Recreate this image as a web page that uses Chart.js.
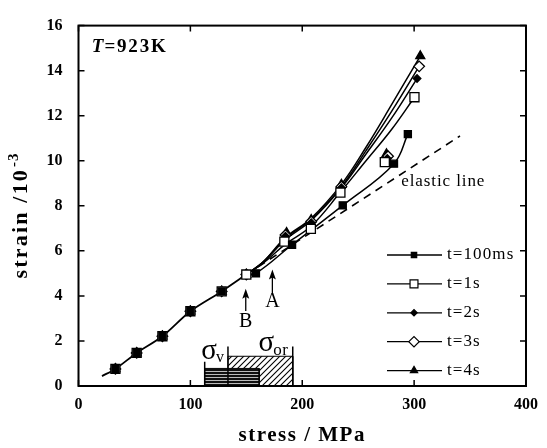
<!DOCTYPE html>
<html><head><meta charset="utf-8">
<script src="https://cdn.jsdelivr.net/npm/chart.js@4.4.1/dist/chart.umd.min.js"></script>
<style>html,body{margin:0;padding:0;background:#fff}#wrap{width:547px;height:448px}</style>
</head><body><div id="wrap"><canvas id="c" width="547" height="448"></canvas></div>
<script>
// ---------- data: measured points ----------
const seriesNames = ['t=100ms', 't=1s', 't=2s', 't=3s', 't=4s'];
const stress100ms = [33, 52, 75, 100, 128, 158.6, 190.9, 236.2, 282, 294.4];
const strain100ms = [0.76, 1.47, 2.21, 3.32, 4.2, 5.0, 6.27, 8.02, 9.87, 11.18];
const stress1s = [33, 52, 75, 100, 128, 150, 184, 207.7, 234.1, 273.8, 300.3];
const strain1s = [0.76, 1.47, 2.21, 3.32, 4.2, 4.95, 6.41, 6.98, 8.59, 9.94, 12.82];
const stress2s = [33, 52, 75, 100, 128, 150, 185, 208, 235, 276, 302.6];
const strain2s = [0.76, 1.47, 2.21, 3.32, 4.2, 4.95, 6.65, 7.25, 8.8, 10.1, 13.65];
const stress3s = [33, 52, 75, 100, 128, 150, 185, 208, 235, 276.7, 304.5];
const strain3s = [0.76, 1.47, 2.21, 3.32, 4.2, 4.95, 6.7, 7.3, 8.85, 10.2, 14.19];
const stress4s = [33, 52, 75, 100, 128, 150, 186, 208, 235, 275.3, 305.5];
const strain4s = [0.76, 1.47, 2.21, 3.32, 4.2, 4.95, 6.8, 7.38, 8.95, 10.3, 14.65];
// ---------- data: drawn curves ----------
const commonCurveStress = [21, 33, 52, 75, 100, 128, 150];
const commonCurveStrain = [0.44, 0.76, 1.47, 2.21, 3.32, 4.2, 4.95];
const curve100msStress = [150, 158.6, 190.9, 236.2, 282, 294.4];
const curve100msStrain = [4.95, 5.0, 6.27, 8.02, 9.87, 11.18];
const curve1sStress = [150, 165, 185, 208, 234, 257, 280, 300.3];
const curve1sStrain = [4.95, 5.45, 6.3, 7.1, 8.6, 10.0, 11.4, 12.82];
const curve2sStress = [150, 165, 185, 208, 235, 257, 280, 302.6];
const curve2sStrain = [4.95, 5.5, 6.5, 7.35, 8.8, 10.3, 11.9, 13.65];
const curve3sStress = [150, 165, 185, 208, 235, 257, 280, 304.5];
const curve3sStrain = [4.95, 5.5, 6.55, 7.4, 8.85, 10.45, 12.2, 14.19];
const curve4sStress = [150, 165, 185, 208, 235, 257, 280, 305.5];
const curve4sStrain = [4.95, 5.5, 6.6, 7.45, 8.95, 10.6, 12.5, 14.65];
const elasticStress = [150, 341];
const elasticStrain = [4.95, 11.1];
const sigmaVRange = [112.8, 161.5];
const sigmaVHeight = 0.78;
const sigmaOrRange = [133.6, 191.5];
const sigmaOrHeight = 1.32;
const markerStress = [112.8, 133.6, 191.5];
const markerTop = [1.08, 1.75, 1.75];
const xTicks = [0, 100, 200, 300, 400];
const yTicks = [0, 2, 4, 6, 8, 10, 12, 14, 16];
const arrowA = {x: 173.3, from: 4.1, to: 5.17, labelY: 3.76, label: 'A'};
const arrowB = {x: 149.5, from: 3.33, to: 4.32, labelY: 2.86, label: 'B'};

// ---------- helpers ----------
function pts(xs, ys) { return xs.map((v, i) => ({x: v, y: ys[i]})); }
function makeHatch() {
  const c = document.createElement('canvas'); c.width = 6; c.height = 6;
  const g = c.getContext('2d');
  g.fillStyle = '#fff'; g.fillRect(0, 0, 6, 6);
  g.strokeStyle = '#000'; g.lineWidth = 1.1;
  g.beginPath(); g.moveTo(0, 6); g.lineTo(6, 0); g.moveTo(-1, 1); g.lineTo(1, -1); g.moveTo(5, 7); g.lineTo(7, 5); g.stroke();
  return g.createPattern(c, 'repeat');
}
function makeStripes() {
  const c = document.createElement('canvas'); c.width = 8; c.height = 3;
  const g = c.getContext('2d');
  g.fillStyle = '#111'; g.fillRect(0, 0, 8, 3);
  g.fillStyle = '#bbb'; g.fillRect(0, 2, 8, 1);
  return g.createPattern(c, 'repeat');
}
function barPts(range, h) { return [{x: range[0], y: 0}, {x: range[0], y: h}, {x: range[1], y: h}, {x: range[1], y: 0}]; }

const styles = [
  {pointStyle: 'rect', radius: 5, fill: '#000', lr: 3.8},
  {pointStyle: 'rect', radius: 6.4, fill: '#fff', lr: 5.6},
  {pointStyle: 'rectRot', radius: 3.8, fill: '#000', lr: 3.2},
  {pointStyle: 'rectRot', radius: 5.3, fill: '#fff', lr: 5.2},
  {pointStyle: 'triangle', radius: 5.2, fill: '#000', lr: 4.2}
];
const seriesX = [stress100ms, stress1s, stress2s, stress3s, stress4s];
const seriesY = [strain100ms, strain1s, strain2s, strain3s, strain4s];
const curveX = [curve100msStress, curve1sStress, curve2sStress, curve3sStress, curve4sStress];
const curveY = [curve100msStrain, curve1sStrain, curve2sStrain, curve3sStrain, curve4sStrain];

const datasets = [];
seriesNames.forEach((n, i) => {
  datasets.push({
    label: n, data: pts(seriesX[i], seriesY[i]), showLine: false,
    pointStyle: styles[i].pointStyle, pointRadius: styles[i].radius,
    pointBackgroundColor: styles[i].fill, pointBorderColor: '#000', pointBorderWidth: 1.3,
    pointHoverRadius: styles[i].radius
  });
});
seriesNames.forEach((n, i) => {
  datasets.push({
    label: n + ' curve', data: pts(curveX[i], curveY[i]), showLine: true,
    borderColor: '#000', borderWidth: 1.5, tension: 0.4, pointRadius: 0
  });
});
datasets.push({label: 'common', data: pts(commonCurveStress, commonCurveStrain), showLine: true, borderColor: '#000', borderWidth: 1.8, pointRadius: 0, tension: 0.3});
datasets.push({label: 'elastic', data: pts(elasticStress, elasticStrain), showLine: true, borderColor: '#000', borderWidth: 1.6, borderDash: [8, 6], pointRadius: 0});
markerStress.forEach((s, i) => {
  datasets.push({label: 'mk' + i, data: [{x: s, y: 0}, {x: s, y: markerTop[i]}], showLine: true, borderColor: '#000', borderWidth: 1.5, pointRadius: 0});
});
datasets.push({label: 'sigmaV', data: barPts(sigmaVRange, sigmaVHeight), showLine: true, borderColor: '#000', borderWidth: 1, pointRadius: 0, fill: 'origin', backgroundColor: makeStripes(), tension: 0});
datasets.push({label: 'sigmaOr', data: barPts(sigmaOrRange, sigmaOrHeight), showLine: true, borderColor: '#000', borderWidth: 1, pointRadius: 0, fill: 'origin', backgroundColor: makeHatch(), tension: 0});

const SERIF = '"Liberation Serif", "Times New Roman", serif';

function drawMarker(ctx, st, r, x, y) {
  ctx.fillStyle = st.fill; ctx.strokeStyle = '#000'; ctx.lineWidth = 1.2;
  if (Chart.helpers && Chart.helpers.drawPoint) {
    Chart.helpers.drawPoint(ctx, {pointStyle: st.pointStyle, radius: r, rotation: 0, borderWidth: 1.2}, x, y);
  } else {
    ctx.beginPath(); ctx.arc(x, y, r, 0, Math.PI * 2); ctx.fill(); ctx.stroke();
  }
}
function txt(ctx, s, x, y, font, align, spacing) {
  ctx.font = font; ctx.textAlign = align || 'left';
  try { ctx.letterSpacing = (spacing || 0) + 'px'; } catch (e) {}
  ctx.fillText(s, x, y);
  try { ctx.letterSpacing = '0px'; } catch (e) {}
}

const decor = {
  id: 'decor',
  beforeDraw(chart) {
    const ctx = chart.ctx; ctx.save(); ctx.fillStyle = '#fff'; ctx.fillRect(0, 0, chart.width, chart.height); ctx.restore();
  },
  afterDraw(chart) {
    const {ctx, chartArea: a} = chart; const xs = chart.scales.x, ys = chart.scales.y;
    ctx.save();
    ctx.strokeStyle = '#000'; ctx.fillStyle = '#000';
    ctx.lineWidth = 2;
    ctx.strokeRect(a.left, a.top, a.right - a.left, a.bottom - a.top);
    ctx.lineWidth = 1.5;
    ctx.beginPath();
    xTicks.forEach(v => { const p = xs.getPixelForValue(v); ctx.moveTo(p, a.bottom); ctx.lineTo(p, a.bottom - 6); ctx.moveTo(p, a.top); ctx.lineTo(p, a.top + 6); });
    yTicks.forEach(v => { const p = ys.getPixelForValue(v); ctx.moveTo(a.left, p); ctx.lineTo(a.left + 6, p); ctx.moveTo(a.right, p); ctx.lineTo(a.right - 6, p); });
    ctx.stroke();
    // arrows
    [arrowA, arrowB].forEach(ar => {
      const px = xs.getPixelForValue(ar.x), y1 = ys.getPixelForValue(ar.from), y2 = ys.getPixelForValue(ar.to);
      ctx.lineWidth = 1.3;
      ctx.beginPath(); ctx.moveTo(px, y1); ctx.lineTo(px, y2 + 6); ctx.stroke();
      ctx.beginPath(); ctx.moveTo(px, y2); ctx.lineTo(px - 3.5, y2 + 10); ctx.lineTo(px, y2 + 8); ctx.lineTo(px + 3.5, y2 + 10); ctx.closePath(); ctx.fill();
      ctx.textBaseline = 'middle';
      txt(ctx, ar.label, px, ys.getPixelForValue(ar.labelY), '20px ' + SERIF, 'center', 0);
    });
    ctx.textBaseline = 'alphabetic';
    // T=923K
    const tx = xs.getPixelForValue(11.9), ty = ys.getPixelForValue(14.83);
    ctx.font = 'italic bold 19px ' + SERIF;
    txt(ctx, 'T', tx, ty, 'italic bold 19px ' + SERIF, 'left', 1);
    const tw = ctx.measureText('T').width + 1;
    txt(ctx, '=923K', tx + tw, ty, 'bold 19px ' + SERIF, 'left', 1.8);
    // elastic line
    txt(ctx, 'elastic line', xs.getPixelForValue(288.5), ys.getPixelForValue(8.89), '17px ' + SERIF, 'left', 0.9);
    // sigma labels
    const sv = xs.getPixelForValue(109.8), svy = ys.getPixelForValue(1.2);
    txt(ctx, 'σ', sv, svy, '29px ' + SERIF, 'left', 0);
    ctx.font = '29px ' + SERIF; const sw = ctx.measureText('σ').width;
    txt(ctx, 'v', sv + sw - 1, svy + 3, '16px ' + SERIF, 'left', 0);
    const so = xs.getPixelForValue(161), soy = ys.getPixelForValue(1.54);
    txt(ctx, 'σ', so, soy, '29px ' + SERIF, 'left', 0);
    txt(ctx, 'or', so + sw - 1, soy + 4, '17px ' + SERIF, 'left', 0.5);
    // axis titles
    txt(ctx, 'stress / MPa', (a.left + a.right) / 2, 441, 'bold 21px ' + SERIF, 'center', 1.5);
    ctx.save();
    ctx.translate(27, 216); ctx.rotate(-Math.PI / 2);
    ctx.font = 'bold 22px ' + SERIF;
    try { ctx.letterSpacing = '2.2px'; } catch (e) {}
    const m1 = ctx.measureText('strain /10').width;
    ctx.font = 'bold 15px ' + SERIF;
    try { ctx.letterSpacing = '1px'; } catch (e) {}
    const m2 = ctx.measureText('-3').width;
    const start = -(m1 + m2) / 2;
    txt(ctx, 'strain /10', start, 0, 'bold 22px ' + SERIF, 'left', 2.2);
    txt(ctx, '-3', start + m1 + 1, -9, 'bold 15px ' + SERIF, 'left', 1);
    ctx.restore();
    // legend
    ctx.textBaseline = 'middle';
    seriesNames.forEach((n, i) => {
      const ly = a.bottom - 131 + i * 28.9;
      const x1 = a.right - 139, x2 = a.right - 84, mx = a.right - 112;
      ctx.strokeStyle = '#000'; ctx.lineWidth = 1.3;
      ctx.beginPath(); ctx.moveTo(x1, ly); ctx.lineTo(x2, ly); ctx.stroke();
      drawMarker(ctx, styles[i], styles[i].lr, mx, ly);
      ctx.fillStyle = '#000';
      txt(ctx, n, a.right - 79, ly, '17px ' + SERIF, 'left', 1.1);
    });
    ctx.restore();
  }
};

new Chart(document.getElementById('c'), {
  type: 'scatter',
  data: {datasets},
  options: {
    responsive: false, animation: false, devicePixelRatio: 1,
    layout: {padding: {left: 0, right: 15, top: 12, bottom: 0}},
    plugins: {legend: {display: false}, tooltip: {enabled: false}},
    elements: {line: {tension: 0}},
    scales: {
      x: {
        type: 'linear', min: 0, max: 400,
        afterBuildTicks: s => { s.ticks = xTicks.map(v => ({value: v})); },
        afterFit: s => { s.height = 62; },
        grid: {display: false, drawTicks: false}, border: {display: false},
        ticks: {padding: 9, color: '#000', font: {family: SERIF, size: 16, weight: 'bold'}}
      },
      y: {
        type: 'linear', min: 0, max: 16,
        afterBuildTicks: s => { s.ticks = yTicks.map(v => ({value: v})); },
        afterFit: s => { s.width = 78.5; },
        grid: {display: false, drawTicks: false}, border: {display: false},
        ticks: {padding: 16, color: '#000', font: {family: SERIF, size: 16, weight: 'bold'}}
      }
    }
  },
  plugins: [decor]
});
</script></body></html>
